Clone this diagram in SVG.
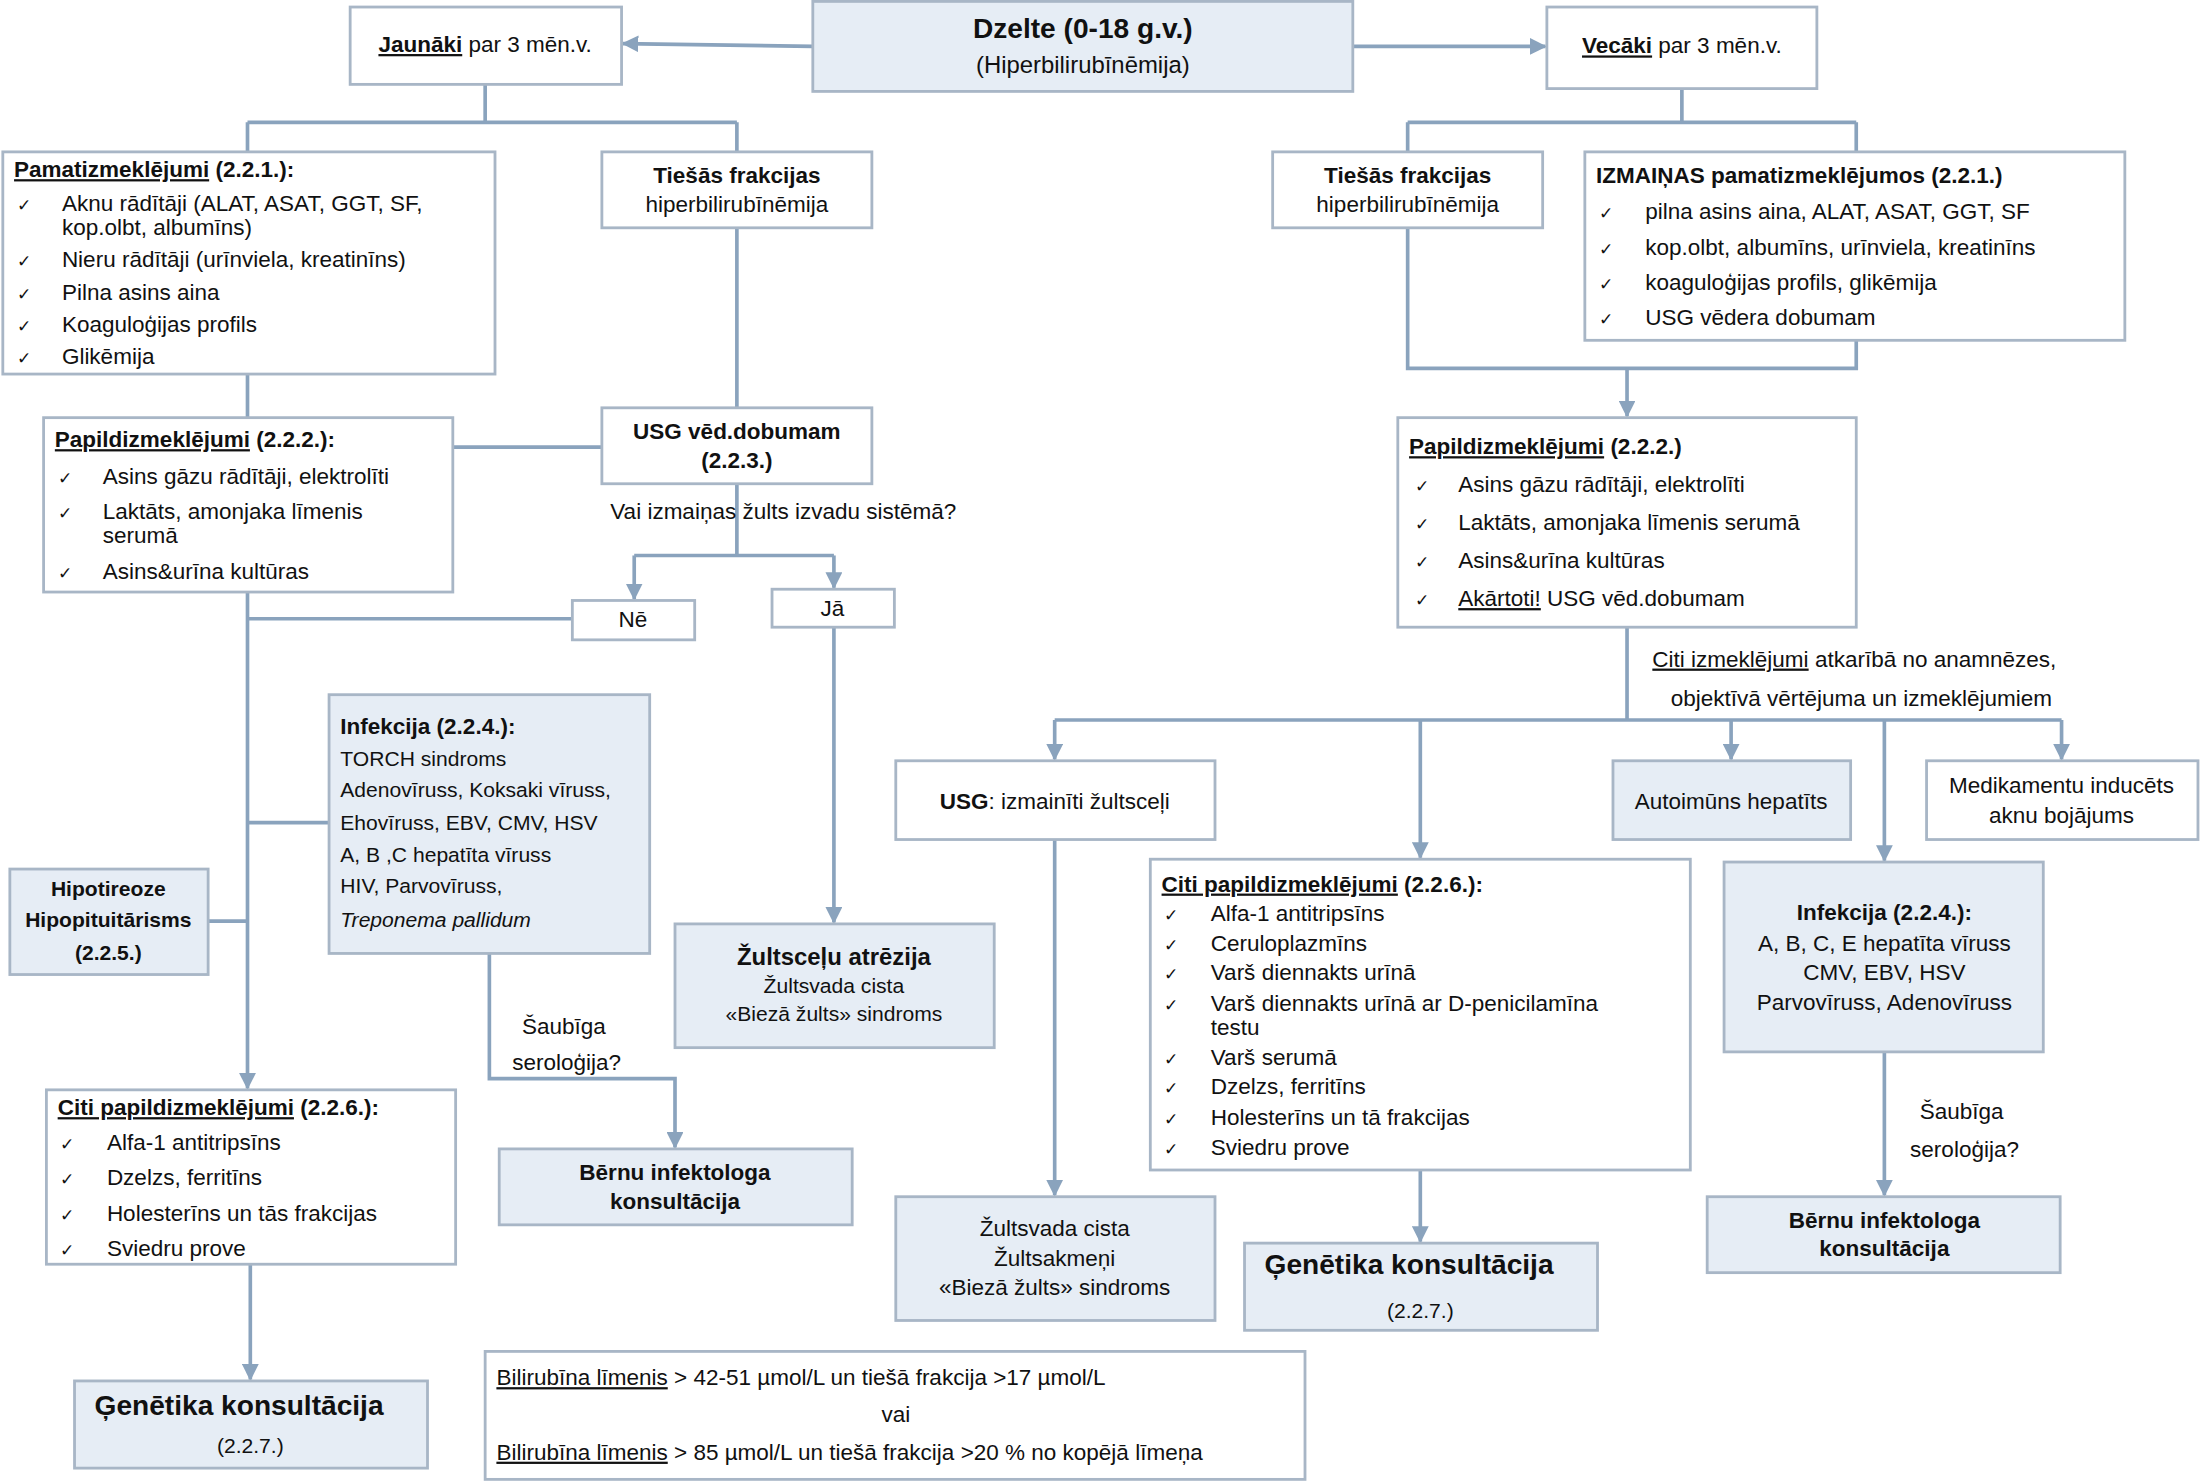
<svg xmlns="http://www.w3.org/2000/svg" width="2205" height="1482" viewBox="0 0 2205 1482">
<defs>
<style>
text{font-family:"Liberation Sans",Arial,sans-serif;font-size:16px;fill:#111}
.b{font-weight:bold}
.c{text-anchor:middle}
.s{font-size:15px}
.ck{font-size:12px}
.u{text-decoration:underline}
.w{fill:#fff;stroke:#a8b6c6;stroke-width:2}
.l{fill:#e6edf5;stroke:#a8b6c6;stroke-width:2}
.cn{fill:none;stroke:#8aa3bd;stroke-width:2.6}
</style>
<marker id="a" viewBox="0 0 12 12" refX="11" refY="6" markerWidth="12" markerHeight="12" markerUnits="userSpaceOnUse" orient="auto"><path d="M0,0L12,6L0,12z" fill="#8aa3bd"/></marker>
</defs>
<rect width="2205" height="1482" fill="#fff"/>
<g transform="scale(1.40625)">
<g id="connectors" class="cn">
<path d="M578,33L443,31" marker-end="url(#a)"/>
<path d="M962,33L1099,33" marker-end="url(#a)"/>
<path d="M345,60V87M176,87H524M176,87V108M524,87V108"/>
<path d="M524,162V290M176,266V297M322,318H428"/>
<path d="M524,344V395M451,395H593"/>
<path d="M451,395V426" marker-end="url(#a)"/>
<path d="M593,395V418" marker-end="url(#a)"/>
<path d="M176,440H407M176,421V774" marker-end="url(#a)"/>
<path d="M176,585H234M148,655H176"/>
<path d="M593,446V656" marker-end="url(#a)"/>
<path d="M348,678V767H480V816" marker-end="url(#a)"/>
<path d="M178,899V981" marker-end="url(#a)"/>
<path d="M1196,63V87M1001,87H1320M1001,87V108M1320,87V108"/>
<path d="M1001,162V262H1320V242"/>
<path d="M1157,262V296" marker-end="url(#a)"/>
<path d="M1157,446V512M750,512H1466"/>
<path d="M750,512V540" marker-end="url(#a)"/>
<path d="M1010,512V610" marker-end="url(#a)"/>
<path d="M1231,512V540" marker-end="url(#a)"/>
<path d="M1340,512V612" marker-end="url(#a)"/>
<path d="M1466,512V540" marker-end="url(#a)"/>
<path d="M750,597V850" marker-end="url(#a)"/>
<path d="M1010,832V883" marker-end="url(#a)"/>
<path d="M1340,748V850" marker-end="url(#a)"/>
</g>
<g id="dzelte"><rect class="l" x="578" y="1" width="384" height="64"/>
<text class="c b" x="770" y="27" style="font-size:20px">Dzelte (0-18 g.v.)</text>
<text class="c" x="770" y="52" style="font-size:17px">(Hiperbilirubīnēmija)</text></g>
<g id="jaunaki"><rect class="w" x="249" y="5" width="193" height="55"/>
<text class="c" x="345" y="37"><tspan class="b u">Jaunāki</tspan> par 3 mēn.v.</text></g>
<g id="vecaki"><rect class="w" x="1100" y="5" width="192" height="58"/>
<text class="c" x="1196" y="38"><tspan class="b u">Vecāki</tspan> par 3 mēn.v.</text></g>
<g id="pamat"><rect class="w" x="2" y="108" width="350" height="158"/>
<text x="10" y="126"><tspan class="b u">Pamatizmeklējumi</tspan><tspan class="b"> (2.2.1.):</tspan></text>
<text class="ck" x="12" y="150">✓</text><text x="44" y="150">Aknu rādītāji (ALAT, ASAT, GGT, SF,</text><text x="44" y="167">kop.olbt, albumīns)</text>
<text class="ck" x="12" y="190">✓</text><text x="44" y="190">Nieru rādītāji (urīnviela, kreatinīns)</text>
<text class="ck" x="12" y="213">✓</text><text x="44" y="213">Pilna asins aina</text>
<text class="ck" x="12" y="236">✓</text><text x="44" y="236">Koaguloģijas profils</text>
<text class="ck" x="12" y="259">✓</text><text x="44" y="259">Glikēmija</text></g>
<g id="tiesas1"><rect class="w" x="428" y="108" width="192" height="54"/>
<text class="c b" x="524" y="130">Tiešās frakcijas</text><text class="c" x="524" y="151">hiperbilirubīnēmija</text></g>
<g id="usg1"><rect class="w" x="428" y="290" width="192" height="54"/>
<text class="c b" x="524" y="312">USG vēd.dobumam</text><text class="c b" x="524" y="333">(2.2.3.)</text></g>
<text class="c" x="557" y="369">Vai izmaiņas žults izvadu sistēmā?</text>
<g id="papild1"><rect class="w" x="31" y="297" width="291" height="124"/>
<text x="39" y="318"><tspan class="b u">Papildizmeklējumi</tspan><tspan class="b"> (2.2.2.):</tspan></text>
<text class="ck" x="41" y="344">✓</text><text x="73" y="344">Asins gāzu rādītāji, elektrolīti</text>
<text class="ck" x="41" y="369">✓</text><text x="73" y="369">Laktāts, amonjaka līmenis</text><text x="73" y="386">serumā</text>
<text class="ck" x="41" y="412">✓</text><text x="73" y="412">Asins&amp;urīna kultūras</text></g>
<g id="ne"><rect class="w" x="407" y="427" width="87" height="28"/><text class="c" x="450" y="446">Nē</text></g>
<g id="ja"><rect class="w" x="549" y="419" width="87" height="27"/><text class="c" x="592" y="438">Jā</text></g>
<g id="infek1"><rect class="l" x="234" y="494" width="228" height="184"/>
<text class="b" x="242" y="522">Infekcija (2.2.4.):</text>
<text class="s" x="242" y="545">TORCH sindroms</text>
<text class="s" x="242" y="567">Adenovīruss, Koksaki vīruss,</text>
<text class="s" x="242" y="590">Ehovīruss, EBV, CMV, HSV</text>
<text class="s" x="242" y="613">A, B ,C hepatīta vīruss</text>
<text class="s" x="242" y="635">HIV, Parvovīruss,</text>
<text class="s" x="242" y="659" font-style="italic">Treponema pallidum</text></g>
<g id="hipo"><rect class="l" x="7" y="618" width="141" height="75"/>
<text class="c b s" x="77" y="637">Hipotireoze</text><text class="c b s" x="77" y="659">Hipopituitārisms</text><text class="c b s" x="77" y="683">(2.2.5.)</text></g>
<g id="atrezija"><rect class="l" x="480" y="657" width="227" height="88"/>
<text class="c b" x="593" y="686" style="font-size:17px">Žultsceļu atrēzija</text>
<text class="c s" x="593" y="706">Žultsvada cista</text><text class="c s" x="593" y="726">«Biezā žults» sindroms</text></g>
<text class="c" x="401" y="735">Šaubīga</text><text class="c" x="403" y="761">seroloģija?</text>
<g id="infektologs1"><rect class="l" x="355" y="817" width="251" height="54"/>
<text class="c b" x="480" y="839">Bērnu infektologa</text><text class="c b" x="480" y="860">konsultācija</text></g>
<g id="citi1"><rect class="w" x="33" y="775" width="291" height="124"/>
<text x="41" y="793"><tspan class="b u">Citi papildizmeklējumi</tspan><tspan class="b"> (2.2.6.):</tspan></text>
<text class="ck" x="43" y="818">✓</text><text x="76" y="818">Alfa-1 antitripsīns</text>
<text class="ck" x="43" y="843">✓</text><text x="76" y="843">Dzelzs, ferritīns</text>
<text class="ck" x="43" y="868">✓</text><text x="76" y="868">Holesterīns un tās frakcijas</text>
<text class="ck" x="43" y="893">✓</text><text x="76" y="893">Sviedru prove</text></g>
<g id="gen1"><rect class="l" x="53" y="982" width="251" height="62"/>
<text class="c b" x="170" y="1006" style="font-size:20px">Ģenētika konsultācija</text><text class="c s" x="178" y="1033">(2.2.7.)</text></g>
<g id="bilirubins"><rect class="w" x="345" y="961" width="583" height="91"/>
<text x="353" y="985"><tspan class="u">Bilirubīna līmenis</tspan> &gt; 42-51 µmol/L un tiešā frakcija &gt;17 µmol/L</text>
<text class="c" x="637" y="1011">vai</text>
<text x="353" y="1038"><tspan class="u">Bilirubīna līmenis</tspan> &gt; 85 µmol/L un tiešā frakcija &gt;20 % no kopējā līmeņa</text></g>
<g id="tiesas2"><rect class="w" x="905" y="108" width="192" height="54"/>
<text class="c b" x="1001" y="130">Tiešās frakcijas</text><text class="c" x="1001" y="151">hiperbilirubīnēmija</text></g>
<g id="izmainas"><rect class="w" x="1127" y="108" width="384" height="134"/>
<text class="b" x="1135" y="130">IZMAIŅAS pamatizmeklējumos (2.2.1.)</text>
<text class="ck" x="1137" y="156">✓</text><text x="1170" y="156">pilna asins aina, ALAT, ASAT, GGT, SF</text>
<text class="ck" x="1137" y="181">✓</text><text x="1170" y="181">kop.olbt, albumīns, urīnviela, kreatinīns</text>
<text class="ck" x="1137" y="206">✓</text><text x="1170" y="206">koaguloģijas profils, glikēmija</text>
<text class="ck" x="1137" y="231">✓</text><text x="1170" y="231">USG vēdera dobumam</text></g>
<g id="papild2"><rect class="w" x="994" y="297" width="326" height="149"/>
<text x="1002" y="323"><tspan class="b u">Papildizmeklējumi</tspan><tspan class="b"> (2.2.2.)</tspan></text>
<text class="ck" x="1006" y="350">✓</text><text x="1037" y="350">Asins gāzu rādītāji, elektrolīti</text>
<text class="ck" x="1006" y="377">✓</text><text x="1037" y="377">Laktāts, amonjaka līmenis serumā</text>
<text class="ck" x="1006" y="404">✓</text><text x="1037" y="404">Asins&amp;urīna kultūras</text>
<text class="ck" x="1006" y="431">✓</text><text x="1037" y="431"><tspan class="u">Akārtoti!</tspan> USG vēd.dobumam</text></g>
<text x="1175" y="474"><tspan class="u">Citi izmeklējumi</tspan> atkarībā no  anamnēzes,</text>
<text x="1188" y="502">objektīvā vērtējuma un izmeklējumiem</text>
<g id="usg2"><rect class="w" x="637" y="541" width="227" height="56"/>
<text class="c" x="750" y="575"><tspan class="b">USG</tspan>: izmainīti žultsceļi</text></g>
<g id="autoimuns"><rect class="l" x="1147" y="541" width="169" height="56"/><text class="c" x="1231" y="575">Autoimūns hepatīts</text></g>
<g id="medikamentu"><rect class="w" x="1370" y="541" width="193" height="56"/>
<text class="c" x="1466" y="564">Medikamentu inducēts</text><text class="c" x="1466" y="585">aknu bojājums</text></g>
<g id="citi2"><rect class="w" x="818" y="611" width="384" height="221"/>
<text x="826" y="634"><tspan class="b u">Citi papildizmeklējumi</tspan><tspan class="b"> (2.2.6.):</tspan></text>
<text class="ck" x="828" y="655">✓</text><text x="861" y="655">Alfa-1 antitripsīns</text>
<text class="ck" x="828" y="676">✓</text><text x="861" y="676">Ceruloplazmīns</text>
<text class="ck" x="828" y="697">✓</text><text x="861" y="697">Varš diennakts urīnā</text>
<text class="ck" x="828" y="719">✓</text><text x="861" y="719">Varš diennakts urīnā ar D-penicilamīna</text><text x="861" y="736">testu</text>
<text class="ck" x="828" y="757">✓</text><text x="861" y="757">Varš serumā</text>
<text class="ck" x="828" y="778">✓</text><text x="861" y="778">Dzelzs, ferritīns</text>
<text class="ck" x="828" y="800">✓</text><text x="861" y="800">Holesterīns un tā frakcijas</text>
<text class="ck" x="828" y="821">✓</text><text x="861" y="821">Sviedru prove</text></g>
<g id="infek2"><rect class="l" x="1226" y="613" width="227" height="135"/>
<text class="c b" x="1340" y="654">Infekcija (2.2.4.):</text>
<text class="c" x="1340" y="676">A, B, C, E hepatīta vīruss</text>
<text class="c" x="1340" y="697">CMV, EBV, HSV</text>
<text class="c" x="1340" y="718">Parvovīruss, Adenovīruss</text></g>
<g id="zultsvada"><rect class="l" x="637" y="851" width="227" height="88"/>
<text class="c" x="750" y="879">Žultsvada cista</text><text class="c" x="750" y="900">Žultsakmeņi</text><text class="c" x="750" y="921">«Biezā žults» sindroms</text></g>
<g id="gen2"><rect class="l" x="885" y="884" width="251" height="62"/>
<text class="c b" x="1002" y="906" style="font-size:20px">Ģenētika konsultācija</text><text class="c s" x="1010" y="937">(2.2.7.)</text></g>
<text class="c" x="1395" y="796">Šaubīga</text><text class="c" x="1397" y="823">seroloģija?</text>
<g id="infektologs2"><rect class="l" x="1214" y="851" width="251" height="54"/>
<text class="c b" x="1340" y="873">Bērnu infektologa</text><text class="c b" x="1340" y="893">konsultācija</text></g>
</g>
</svg>
